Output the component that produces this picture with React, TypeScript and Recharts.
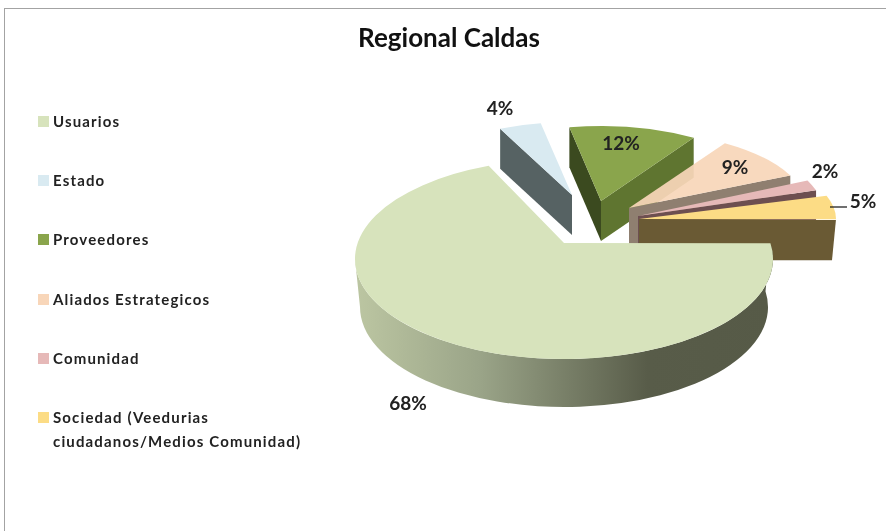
import React from 'react';
import { PieChart, Pie, Legend } from 'recharts';

// Regional Caldas, legend order
const categories = [
  'Usuarios',
  'Estado',
  'Proveedores',
  'Aliados Estrategicos',
  'Comunidad',
  'Sociedad (Veedurias ciudadanos/Medios Comunidad)',
];
const shares = [68, 4, 12, 9, 2, 5];
const topColors = ['#d7e3bc', '#d9eaf1', '#8aa54c', '#f8d6b9', '#e6b9b8', '#fcdc85'];
const title = 'Regional Caldas';

const FONT = 'Lato, "Open Sans", sans-serif';
const LEGEND_W = 300; // the legend eats this much from the plot's left side
const PIE_CX = 564;
const PIE_CY = 243;

// how each slice is pulled out and tilted, same order as categories
const sliceLooks = [
  { dx: 0, dy: 0, rx: 209, ry: 100, lift: 16, depth: 48, bottomRx: 204, startWall: null, endWall: null, front: true, labelDx: -156, labelDy: 159 },
  { dx: 8, dy: -48, rx: 170, ry: 73, lift: 0, depth: 40, bottomRx: 170, startWall: '#566263', endWall: null, front: false, labelDx: -64, labelDy: -136 },
  { dx: 37, dy: -42, rx: 172, ry: 75, lift: 0, depth: 40, bottomRx: 172, startWall: '#3b4a1f', endWall: '#5f7530', front: false, labelDx: 57, labelDy: -101 },
  { dx: 65, dy: -35, rx: 178, ry: 77, lift: 0, depth: 40, bottomRx: 178, startWall: null, endWall: '#8f7f70', front: false, labelDx: 171, labelDy: -77 },
  { dx: 74, dy: -27, rx: 187, ry: 84, lift: 0, depth: 40, bottomRx: 187, startWall: null, endWall: '#6d4f50', front: false, labelDx: 261, labelDy: -73 },
  { dx: 75, dy: -24, rx: 197, ry: 76, lift: 0, depth: 41, bottomRx: 193, startWall: null, endWall: '#6a5a34', front: false, labelDx: 299, labelDy: -43 },
];

// the big slice has to paint last, so the pie starts at Estado
const pieRows = [1, 2, 3, 4, 5, 0].map((slot) => ({
  name: categories[slot],
  value: shares[slot],
  slot,
}));

// where a ray from the apex meets the slice's ellipse
const rayPoint = (ax: number, ay: number, rx: number, ry: number, lift: number, deg: number) => {
  const a = (deg * Math.PI) / 180;
  const e = lift / ry;
  const b = 2 * e * Math.sin(a);
  const c = e * e - 1;
  const t = (-b + Math.sqrt(b * b - 4 * c)) / 2;
  return { x: ax + t * Math.cos(a) * rx, y: ay - t * Math.sin(a) * ry };
};

const renderSlice = (props: any) => {
  const { cx, cy, startAngle, endAngle } = props;
  const slot = props.slot ?? props.payload?.slot;
  const look = sliceLooks[slot];
  const ax = cx + look.dx;
  const ay = cy + look.dy;
  const p1 = rayPoint(ax, ay, look.rx, look.ry, look.lift, startAngle);
  const p2 = rayPoint(ax, ay, look.rx, look.ry, look.lift, endAngle);
  const large = Math.abs(endAngle - startAngle) > 180 ? 1 : 0;
  const top = `M${ax},${ay} L${p1.x},${p1.y} A${look.rx},${look.ry} 0 ${large} 1 ${p2.x},${p2.y} Z`;

  const b1 = rayPoint(ax, ay + look.depth, look.bottomRx, look.ry, look.lift, startAngle);
  const b2 = rayPoint(ax, ay + look.depth, look.bottomRx, look.ry, look.lift, endAngle);
  const ey = ay + look.lift;

  return (
    <g>
      {look.startWall && (
        <path
          d={`M${ax},${ay} L${p1.x},${p1.y} L${b1.x},${b1.y} L${ax},${ay + look.depth} Z`}
          fill={look.startWall}
        />
      )}
      {look.endWall && (
        <path
          d={`M${ax},${ay} L${p2.x},${p2.y} L${b2.x},${b2.y} L${ax},${ay + look.depth} Z`}
          fill={look.endWall}
        />
      )}
      {look.front && (
        <path
          d={`M${ax - look.rx},${ey} A${look.rx},${look.ry} 0 1 0 ${p1.x},${p1.y} L${b1.x},${b1.y} A${look.bottomRx},${look.ry} 0 1 1 ${ax - look.bottomRx},${ey + look.depth} Z`}
          fill="url(#wallShade)"
        />
      )}
      <path d={top} fill={topColors[slot]} fillOpacity={slot === 3 ? 0.93 : 1} />
    </g>
  );
};

const renderPercent = (props: any) => {
  const slot = props.slot ?? props.payload?.slot;
  const look = sliceLooks[slot];
  const x = props.cx + look.labelDx;
  const y = props.cy + look.labelDy;
  return (
    <g key={`pct-${slot}`}>
      {slot === 5 && <line x1={x - 33} x2={x - 16} y1={y + 7} y2={y + 7} stroke="#111" strokeWidth={1.2} />}
      <text
        x={x}
        y={y}
        textAnchor="middle"
        dominantBaseline="central"
        fontFamily={FONT}
        fontSize={19}
        fontWeight={700}
        fill="#222"
      >
        {`${props.value}%`}
      </text>
    </g>
  );
};

const renderLegend = () => (
  <div style={{ position: 'relative', width: LEGEND_W, fontFamily: FONT, fontSize: 15, fontWeight: 700, color: '#222' }}>
    {categories.map((name, i) => (
      <div key={name} style={{ position: 'absolute', left: 0, top: i * 59.2, width: 272, display: 'flex', lineHeight: '24px', letterSpacing: 1.15 }}>
        <span style={{ flex: '0 0 11px', height: 11, marginTop: 7, marginRight: 4, background: topColors[i] }} />
        <span>{name}</span>
      </div>
    ))}
  </div>
);

export default function App() {
  return (
    <div style={{ position: 'absolute', left: 0, top: 0, width: 886, height: 531, overflow: 'hidden', background: '#fff', filter: 'blur(0.4px)' }}>
      <div style={{ position: 'absolute', left: 4, top: 8, right: -4, bottom: -4, borderLeft: '1.5px solid #a3a3a3', borderTop: '1.5px solid #a3a3a3' }} />
      <PieChart width={886} height={531} margin={{ top: 0, right: 0, bottom: 0, left: 0 }} style={{ position: 'absolute', left: 0, top: 0 }}>
        <defs>
          <linearGradient id="wallShade" x1="0" y1="0" x2="1" y2="0">
            <stop offset="0" stopColor="#bcc6a2" />
            <stop offset="0.3" stopColor="#9aa488" />
            <stop offset="0.7" stopColor="#585c49" />
            <stop offset="1" stopColor="#565a47" />
          </linearGradient>
        </defs>
        <text x={449} y={37} textAnchor="middle" dominantBaseline="central" fontFamily={FONT} fontSize={26} fontWeight={700} fill="#111">
          {title}
        </text>
        <Legend
          layout="vertical"
          align="left"
          verticalAlign="top"
          content={renderLegend}
          wrapperStyle={{ left: 38, top: 109, width: LEGEND_W }}
        />
        <Pie
          data={pieRows}
          dataKey="value"
          nameKey="name"
          cx={PIE_CX - LEGEND_W}
          cy={PIE_CY}
          innerRadius={0}
          outerRadius={209}
          startAngle={115}
          endAngle={-245}
          stroke="none"
          shape={renderSlice}
          label={renderPercent}
          labelLine={false}
          isAnimationActive={false}
        />
      </PieChart>
    </div>
  );
}
